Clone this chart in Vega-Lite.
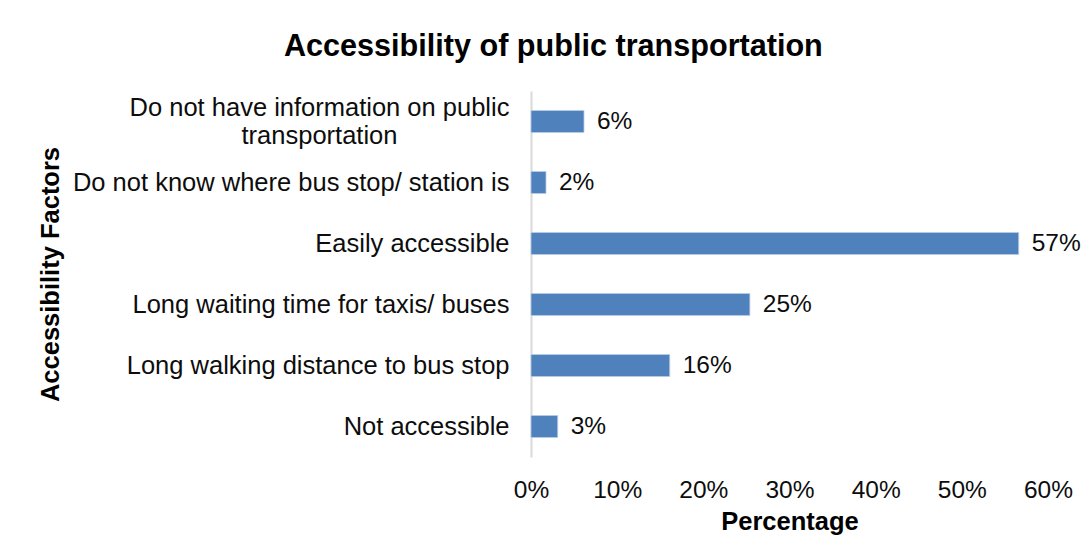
{
  "$schema": "https://vega.github.io/schema/vega-lite/v6.json",
  "width": 517,
  "height": 366,
  "padding": {"left": 38, "top": 32, "right": 15, "bottom": 10},
  "background": "white",
  "config": {"view": {"stroke": null}, "font": "Liberation Sans"},
  "title": {
    "text": "Accessibility of public transportation",
    "font": "Liberation Sans",
    "fontSize": 30.6,
    "fontWeight": "bold",
    "color": "#000000",
    "anchor": "middle",
    "frame": "bounds",
    "dx": -6,
    "offset": 28
  },
  "data": {
    "values": [
      {"factor": "Do not have information on public transportation", "pct": 0.0615},
      {"factor": "Do not know where bus stop/ station is", "pct": 0.0174},
      {"factor": "Easily accessible", "pct": 0.566},
      {"factor": "Long waiting time for taxis/ buses", "pct": 0.254},
      {"factor": "Long walking distance to bus stop", "pct": 0.161},
      {"factor": "Not accessible", "pct": 0.031}
    ]
  },
  "encoding": {
    "y": {
      "field": "factor",
      "type": "nominal",
      "sort": null,
      "scale": {"paddingInner": 0.64, "paddingOuter": 0.32},
      "axis": {
        "title": "Accessibility Factors",
        "titleFont": "Liberation Sans",
        "titleFontSize": 25.5,
        "titleFontWeight": "bold",
        "titleColor": "#000000",
        "titleX": -481,
        "titleBaseline": "middle",
        "titleAlign": "center",
        "titleAngle": -90,
        "labelFont": "Liberation Sans",
        "labelFontSize": 25.5,
        "labelColor": "#0d0d0d",
        "labelLimit": 0,
        "labelLineHeight": 28,
        "labelExpr": "datum.value == 'Do not have information on public transportation' ? ['Do not have information on public', 'transportation'] : datum.value",
        "labelAlign": {"condition": {"test": "datum.value == 'Do not have information on public transportation'", "value": "center"}, "value": "right"},
        "labelPadding": {"condition": {"test": "datum.value == 'Do not have information on public transportation'", "value": 212}, "value": 22},
        "labelOffset": {"condition": {"test": "datum.value == 'Do not have information on public transportation'", "value": -14}, "value": 0},
        "ticks": false,
        "domainColor": "#d9d9d9",
        "domainWidth": 2,
        "grid": false
      }
    },
    "x": {
      "field": "pct",
      "type": "quantitative",
      "scale": {"domain": [0, 0.6], "nice": false},
      "axis": {
        "title": "Percentage",
        "titleFont": "Liberation Sans",
        "titleFontSize": 25.5,
        "titleFontWeight": "bold",
        "titleColor": "#000000",
        "titlePadding": 8,
        "format": ".0%",
        "values": [0, 0.1, 0.2, 0.3, 0.4, 0.5, 0.6],
        "labelFont": "Liberation Sans",
        "labelFontSize": 24.5,
        "labelColor": "#0d0d0d",
        "labelPadding": 21,
        "labelFlush": false,
        "domain": false,
        "ticks": false,
        "grid": false
      }
    }
  },
  "layer": [
    {"mark": {"type": "bar", "color": "#4F81BD", "stroke": "#b8cce4", "strokeWidth": 0.8}},
    {
      "mark": {"type": "text", "align": "left", "baseline": "middle", "dx": 13, "font": "Liberation Sans", "fontSize": 24.5, "color": "#0d0d0d"},
      "encoding": {"text": {"field": "pct", "type": "quantitative", "format": ".0%"}}
    }
  ]
}
